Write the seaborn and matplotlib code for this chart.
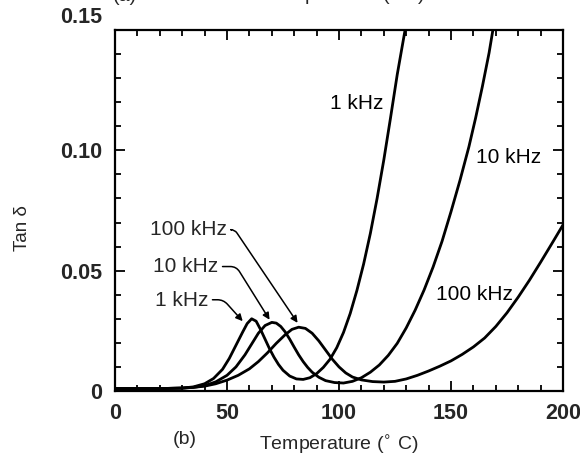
import matplotlib
matplotlib.use("Agg")
import matplotlib.pyplot as plt
import seaborn as sns
import pandas as pd
from matplotlib.ticker import MultipleLocator
from matplotlib.font_manager import FontProperties

# ---- data ----
t_1k = [0, 10, 20, 30, 35, 40, 44, 48, 51, 54, 57, 59, 61, 63, 65, 67, 69, 71, 73, 75,
        78, 81, 84, 87, 90, 93, 96, 99, 102, 105, 108, 111, 114, 117, 120, 123, 126, 129.5]
v_1k = [0.0010, 0.0010, 0.0010, 0.0012, 0.0017, 0.0030, 0.0052, 0.0090, 0.0135, 0.0190,
        0.0245, 0.0280, 0.0300, 0.0290, 0.0255, 0.0215, 0.0175, 0.0140, 0.0110, 0.0086,
        0.0062, 0.0050, 0.0048, 0.0055, 0.0072, 0.0098, 0.0132, 0.0180, 0.0243, 0.0322,
        0.0418, 0.0528, 0.0655, 0.0800, 0.0960, 0.1135, 0.1315, 0.1500]

t_10k = [0, 10, 20, 30, 35, 40, 45, 50, 54, 58, 61, 64, 67, 70, 72, 74, 76, 78, 80, 82,
         84, 86, 88, 91, 94, 98, 102, 106, 110, 114, 118, 122, 126, 130, 134, 138, 142,
         146, 150, 154, 158, 161, 164, 167, 168.7]
v_10k = [0.0010, 0.0010, 0.0010, 0.0012, 0.0015, 0.0022, 0.0038, 0.0065, 0.0100, 0.0150,
         0.0195, 0.0240, 0.0272, 0.0285, 0.0282, 0.0268, 0.0245, 0.0215, 0.0182, 0.0150,
         0.0122, 0.0098, 0.0078, 0.0057, 0.0043, 0.0035, 0.0033, 0.0040, 0.0055, 0.0078,
         0.0108, 0.0148, 0.0198, 0.0262, 0.0336, 0.0420, 0.0515, 0.0622, 0.0745, 0.0875,
         0.1015, 0.1135, 0.1265, 0.1405, 0.1500]

t_100k = [0, 10, 20, 30, 35, 40, 45, 50, 55, 60, 64, 68, 72, 76, 79, 82, 85, 88, 91, 94,
          97, 100, 103, 106, 110, 115, 120, 125, 130, 135, 140, 145, 150, 155, 160, 165,
          170, 175, 180, 185, 190, 195, 200]
v_100k = [0.0010, 0.0010, 0.0010, 0.0012, 0.0015, 0.0020, 0.0030, 0.0045, 0.0065, 0.0092,
          0.0122, 0.0158, 0.0198, 0.0234, 0.0256, 0.0265, 0.0260, 0.0240, 0.0208, 0.0170,
          0.0132, 0.0100, 0.0075, 0.0058, 0.0046, 0.0039, 0.0037, 0.0040, 0.0050, 0.0065,
          0.0083, 0.0103, 0.0125, 0.0152, 0.0183, 0.0220, 0.0268, 0.0325, 0.0390, 0.0460,
          0.0535, 0.0612, 0.0690]

freq_names = ["1 kHz", "10 kHz", "100 kHz"]
x_ticks = [0, 50, 100, 150, 200]
x_tick_labels = ["0", "50", "100", "150", "200"]
y_ticks = [0, 0.05, 0.10, 0.15]
y_tick_labels = ["0", "0.05", "0.10", "0.15"]

df = pd.concat([
    pd.DataFrame({"T": t_1k, "tan": v_1k, "freq": freq_names[0]}),
    pd.DataFrame({"T": t_10k, "tan": v_10k, "freq": freq_names[1]}),
    pd.DataFrame({"T": t_100k, "tan": v_100k, "freq": freq_names[2]}),
], ignore_index=True)

sns.set_style("ticks")
plt.rcParams["font.family"] = ["Liberation Sans", "DejaVu Sans"]

fig = plt.figure(figsize=(5.8, 4.66), dpi=100)
ax = fig.add_axes([0.1983, 0.161, 0.7724, 0.7747])

sns.lineplot(data=df, x="T", y="tan", hue="freq", units="freq", estimator=None,
             palette=["black", "black", "black"], linewidth=2.0, legend=False,
             sort=False, ax=ax)

ax.set_xlim(0, 200)
ax.set_ylim(0, 0.15)
ax.set_xticks(x_ticks)
ax.set_xticklabels(x_tick_labels)
ax.set_yticks(y_ticks)
# top label is drawn separately (it sits above the frame in the reference)
ax.set_yticklabels(y_tick_labels[:-1] + [""])
ax.xaxis.set_minor_locator(MultipleLocator(10))
ax.yaxis.set_minor_locator(MultipleLocator(0.01))
ax.tick_params(which="both", direction="in", top=True, right=True, width=1.3, color="black")
ax.tick_params(which="major", length=7, pad=9)
ax.tick_params(which="minor", length=4)
tick_fp = FontProperties(family=["Liberation Sans", "DejaVu Sans"], weight="bold", size=15.5)
for lab in ax.get_xticklabels() + ax.get_yticklabels():
    lab.set_fontproperties(tick_fp)
ax.annotate(y_tick_labels[-1], xy=(0, 0.15), xycoords=("axes fraction", "data"),
            xytext=(-9, 9), textcoords="offset points", ha="right", va="center",
            fontproperties=tick_fp)
for s in ax.spines.values():
    s.set_linewidth(1.6)
    s.set_color("black")

ax.set_xlabel("Temperature ($^{\\circ}$ C)", fontsize=14, labelpad=7)
ax.set_ylabel("Tan δ", fontsize=13.5)
ax.yaxis.set_label_coords(-0.188, 0.45)

# curve labels
lab_kw = dict(fontsize=15, color="black", ha="center", va="center")
ax.text(108, 0.1195, "1 kHz", **lab_kw)
ax.text(175.5, 0.0970, "10 kHz", **lab_kw)
ax.text(160.5, 0.0400, "100 kHz", **lab_kw)

# peak labels with arrows
ax.text(50, 0.0670, "100 kHz", ha="right", va="center", fontsize=15)
ax.text(46, 0.0517, "10 kHz", ha="right", va="center", fontsize=15)
ax.text(41.5, 0.0375, "1 kHz", ha="right", va="center", fontsize=15)
arrow = dict(arrowstyle="-|>", color="black", lw=1.1, mutation_scale=10, shrinkA=0, shrinkB=0)
ax.annotate("", xy=(81.5, 0.0283), xytext=(52.0, 0.0670),
            arrowprops=dict(connectionstyle="angle,angleA=0,angleB=-56,rad=4", **arrow))
ax.annotate("", xy=(69.0, 0.0296), xytext=(48.0, 0.0517),
            arrowprops=dict(connectionstyle="angle,angleA=0,angleB=-58,rad=6", **arrow))
ax.annotate("", xy=(57.0, 0.0290), xytext=(43.5, 0.0379),
            arrowprops=dict(connectionstyle="angle,angleA=0,angleB=-48,rad=6", **arrow))

# panel labels
fig.text(185 / 580, 1 - 440 / 466, "(b)", fontsize=14, ha="center", va="center")
fig.text(125 / 580, 1.008, "(a)", fontsize=14, ha="center", va="center")
fig.text(345 / 580, 1.008, "Temperature ($^{\\circ}$ C)", fontsize=14, ha="center", va="center")

fig.savefig("out.png", dpi=100)
